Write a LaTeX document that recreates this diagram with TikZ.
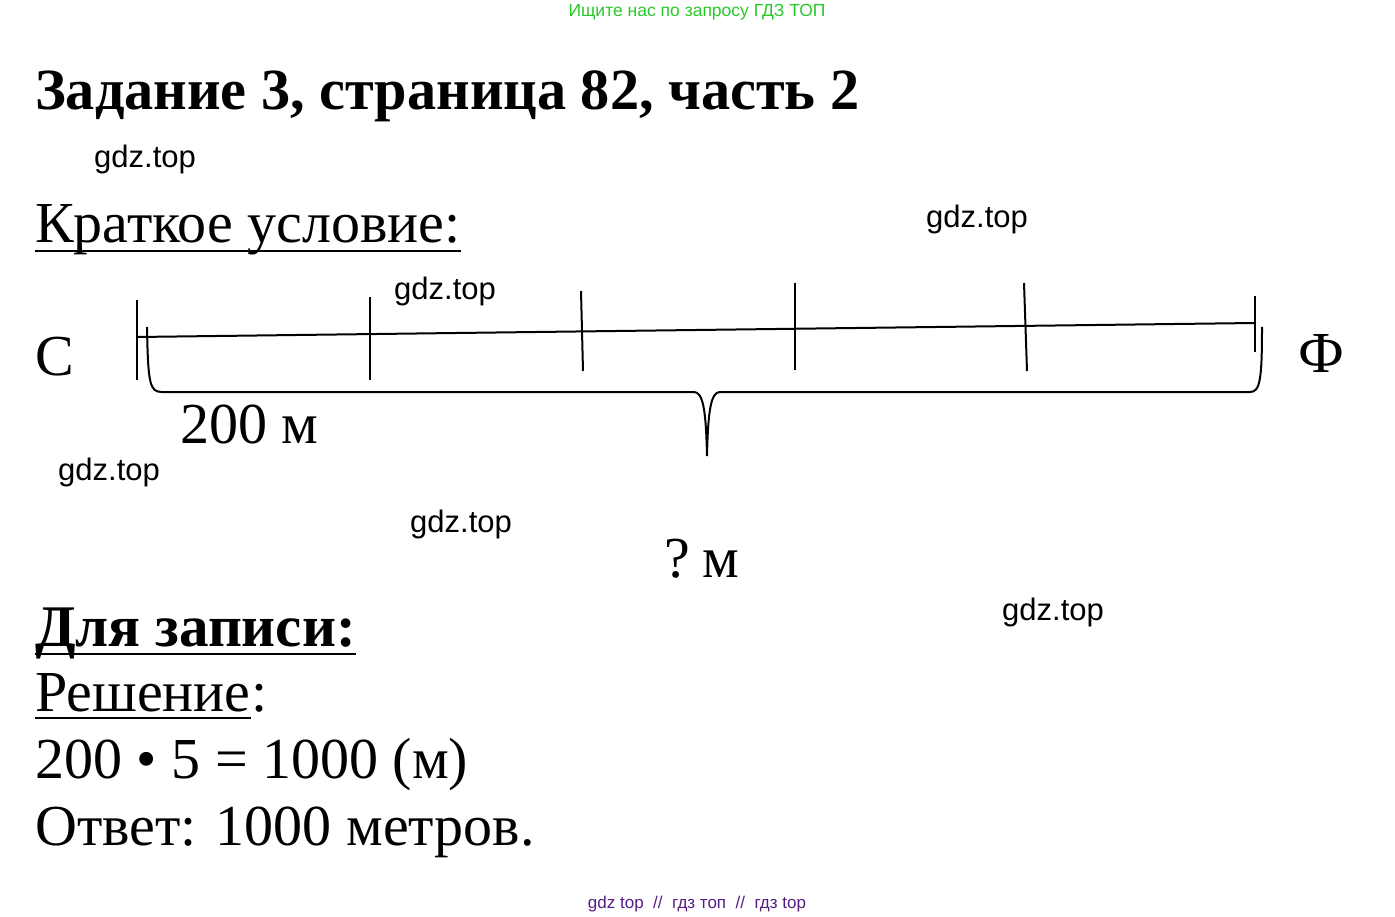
\documentclass[tikz,border=0pt]{standalone}
\usepackage{fontspec}
\setmainfont{Liberation Serif}
\newfontfamily\wmfont{Liberation Sans}
\usetikzlibrary{calc}
\definecolor{adgreen}{RGB}{40,200,40}
\definecolor{adpurple}{RGB}{85,30,130}

\begin{document}
\begin{tikzpicture}[x=1pt, y=-1pt,
		txt/.style={anchor=base west, inner sep=0pt, font=\fontsize{58}{60}\selectfont},
		bold txt/.style={txt, font=\fontsize{59}{61}\selectfont\bfseries},
		wm/.style={anchor=base west, inner sep=0pt, font=\wmfont\fontsize{31}{33}\selectfont},
		seg/.style={line width=2pt},
		uline/.style={line width=2.2pt}]
			\useasboundingbox (0,0) rectangle (1395,917);
			
			% --- HEADER ---
			\node[anchor=base, inner sep=0pt, text=adgreen, font=\wmfont\fontsize{17.5}{19}\selectfont] (topnote) at (697,17) {Ищите нас по запросу ГДЗ ТОП};
			\node[bold txt, font=\fontsize{58.3}{60}\selectfont\bfseries] (title) at (35,110) {Задание 3, страница 82, часть 2};
			
			% --- SHORT CONDITION ---
			\node[txt] (kratk) at (35,243) {Краткое условие:};
			\draw[uline] ([yshift=-8pt]kratk.base west) -- ([yshift=-8pt]kratk.base east);
			
			\node[txt] (lblC) at (35,375) {С};
			\node[txt] (lblF) at (1298,372) {Ф};
			
			% Segment with marks
			\draw[seg] (137,337) -- (1255,323);
			\foreach \xa/\ya/\xb/\yb in {137/300/137/380, 370/297/370/380, 581/291/583/371,
				795/283/795/370, 1024/283/1027/371, 1255/296/1255/352} {
				\draw[seg] (\xa,\ya) -- (\xb,\yb);
			}
			
			% Brace under the segment
			\draw[seg] (147,327) .. controls (148,385) and (150,392) .. (162,392) -- (694,392)
				.. controls (703,392) and (706,410) .. (707,456)
				.. controls (708,410) and (711,392) .. (720,392) -- (1250,392)
				.. controls (1260,392) and (1262,380) .. (1262,327);
			
			\node[txt] (len) at (180,443) {200 м};
			\node[txt] (total) at (664,577) {?\kern 0.22em м};
			
			% --- SOLUTION ---
			\node[bold txt] (dlya) at (35,646) {Для записи:};
			\draw[uline] ([yshift=-8pt]dlya.base west) -- ([yshift=-8pt]dlya.base east);
			\node[txt] (resh) at (35,711) {Решение};
			\node[txt] (reshcol) at (resh.base east) {:};
			\draw[uline] ([yshift=-7pt]resh.base west) -- ([yshift=-7pt]resh.base east);
			\node[txt] (calc) at (35,778) {200 • 5 = 1000 (м)};
			\node[txt] (otvet) at (35,845) {Ответ: 1000 метров.};
			
			% --- WATERMARKS ---
			\node[wm] (wm1) at (94,168) {gdz.top};
			\node[wm] (wm2) at (926,228) {gdz.top};
			\node[wm] (wm3) at (394,300) {gdz.top};
			\node[wm] (wm4) at (58,480) {gdz.top};
			\node[wm] (wm5) at (410,532) {gdz.top};
			\node[wm] (wm6) at (1002,620) {gdz.top};
			\node[anchor=base, inner sep=0pt, text=adpurple, font=\wmfont\fontsize{17}{19}\selectfont] (footnote) at (697,908) {gdz top \ // \ гдз топ \ // \ гдз top};
		\end{tikzpicture}
\end{document}
